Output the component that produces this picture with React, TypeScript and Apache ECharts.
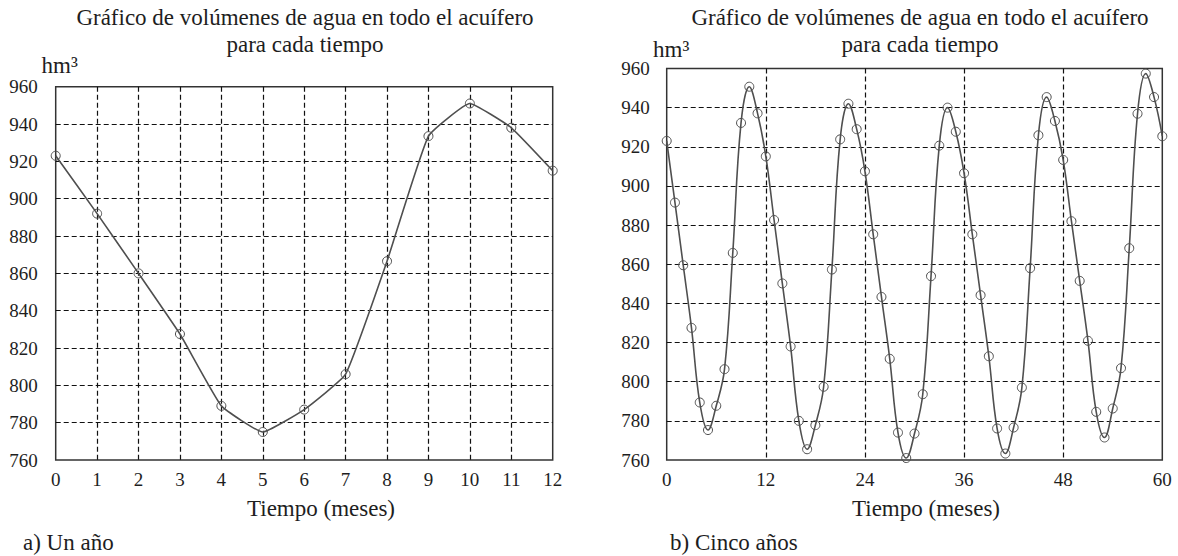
import React, { useEffect, useRef } from "react";
import * as echarts from "echarts";

// Chart a) one year (months 0..12), hm³
const yearMonths = [0, 1, 2, 3, 4, 5, 6, 7, 8, 9, 10, 11, 12];
const yearVolumes = [923, 892, 860, 827.5, 789, 775, 787, 806, 866.5, 933.5, 951, 938, 915];

// Chart b) five years (months 0..60), hm³
const fiveYearVolumes = [
  923, 891.5, 859.5, 827.5, 789.4, 775.3, 787.7, 806.4, 865.8, 932.2, 950.7, 937.1, 915.1,
  882.6, 850.2, 818, 780, 765.5, 777.8, 797.4, 857.3, 923.8, 942, 929, 907.5,
  875.3, 843.3, 811.7, 774, 761, 773.5, 793.6, 853.9, 920.6, 940, 927.7, 906.5,
  875.3, 844.2, 813, 776.1, 763.3, 776.6, 797, 858, 925.9, 945.4, 933.2, 913.3,
  882, 851.5, 820.9, 784.6, 771.5, 786.3, 806.9, 868.2, 936.9, 957.4, 945.4, 925.4,
];

const titleText = "Gráfico de volúmenes de agua en todo el acuífero\npara cada tiempo";
const unitText = "hm³";
const xNameText = "Tiempo (meses)";
const captionA = "a) Un año";
const captionB = "b) Cinco años";

const FONT = "Liberation Serif";
const TEXT_COLOR = "#1e1e1e";
const LINE_COLOR = "#4f4f4f";

export default function App() {
  const ref = useRef<HTMLDivElement>(null);

  useEffect(() => {
    if (!ref.current) return;
    const chart = echarts.init(ref.current, null, { renderer: "svg" });

    const splitLine = {
      show: true,
      showMinLine: false,
      showMaxLine: false,
      lineStyle: { color: "#111", type: [5, 3], width: 1.2 },
    };
    const tickLabel = (margin: number) => ({
      fontFamily: FONT,
      fontSize: 19,
      color: TEXT_COLOR,
      margin,
    });

    const seriesStyle = {
      type: "line" as const,
      symbol: "circle",
      symbolSize: 9,
      lineStyle: { color: LINE_COLOR, width: 1.6 },
      itemStyle: { color: "rgba(255,255,255,0)", borderColor: LINE_COLOR, borderWidth: 1 },
      emphasis: { disabled: true },
    };

    const text = (x: number, y: number, t: string, align: string, extra: any = {}) => ({
      type: "text",
      x,
      y,
      style: {
        text: t,
        fontFamily: FONT,
        fontSize: 23,
        fill: TEXT_COLOR,
        textAlign: align,
        textVerticalAlign: "middle",
        ...extra,
      },
    });

    chart.setOption({
      animation: false,
      backgroundColor: "#ffffff",
      textStyle: { fontFamily: FONT },
      grid: [
        {
          left: 55.7,
          top: 86.7,
          width: 497,
          height: 373.3,
          show: true,
          borderColor: "#333",
          borderWidth: 1.5,
          backgroundColor: "transparent",
        },
        {
          left: 666.7,
          top: 68.5,
          width: 495.6,
          height: 391.5,
          show: true,
          borderColor: "#333",
          borderWidth: 1.5,
          backgroundColor: "transparent",
        },
      ],
      xAxis: [
        {
          gridIndex: 0,
          type: "value",
          min: 0,
          max: 12,
          interval: 1,
          axisLine: { show: false },
          axisTick: { show: false },
          axisLabel: tickLabel(10),
          splitLine,
        },
        {
          gridIndex: 1,
          type: "value",
          min: 0,
          max: 60,
          interval: 12,
          axisLine: { show: false },
          axisTick: { show: false },
          axisLabel: tickLabel(10),
          splitLine,
        },
      ],
      yAxis: [
        {
          gridIndex: 0,
          type: "value",
          min: 760,
          max: 960,
          interval: 20,
          axisLine: { show: false },
          axisTick: { show: false },
          axisLabel: tickLabel(18),
          splitLine,
        },
        {
          gridIndex: 1,
          type: "value",
          min: 760,
          max: 960,
          interval: 20,
          axisLine: { show: false },
          axisTick: { show: false },
          axisLabel: tickLabel(17),
          splitLine,
        },
      ],
      series: [
        {
          ...seriesStyle,
          name: "Un año",
          xAxisIndex: 0,
          yAxisIndex: 0,
          smooth: 0.12,
          data: yearVolumes.map((v, i) => [yearMonths[i], v]),
        },
        {
          ...seriesStyle,
          name: "Cinco años",
          xAxisIndex: 1,
          yAxisIndex: 1,
          smooth: 0.4,
          data: fiveYearVolumes.map((v, i) => [i, v]),
        },
      ],
      graphic: [
        text(305, 31, titleText, "center", { lineHeight: 26.5 }),
        text(920, 31, titleText, "center", { lineHeight: 26.5 }),
        text(41.5, 65, unitText, "left"),
        text(653, 49, unitText, "left"),
        text(247, 508.5, xNameText, "left"),
        text(852, 508.5, xNameText, "left"),
        text(23, 542, captionA, "left"),
        text(670, 542, captionB, "left"),
      ],
    });

    return () => chart.dispose();
  }, []);

  return (
    <div
      ref={ref}
      style={{ position: "absolute", left: 0, top: 0, width: 1178, height: 556, background: "#fff" }}
    />
  );
}
